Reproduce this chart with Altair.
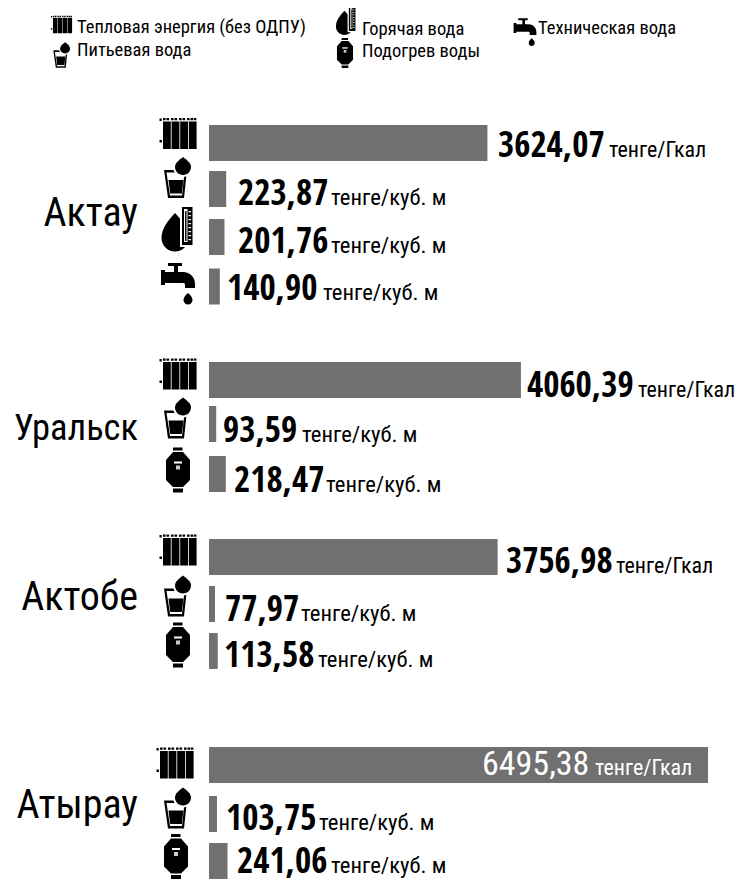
import re
import altair as alt
import pandas as pd

# ---------- data ----------
CITIES = ["Актау", "Уральск", "Актобе", "Атырау"]
SERVICES = ["Тепловая энергия (без ОДПУ)", "Питьевая вода", "Горячая вода",
            "Техническая вода", "Подогрев воды"]
AKTAU_ROWS = ["Тепловая энергия (без ОДПУ)", "Питьевая вода", "Горячая вода", "Техническая вода"]
AKTAU_VALUES = [3624.07, 223.87, 201.76, 140.90]
URALSK_ROWS = ["Тепловая энергия (без ОДПУ)", "Питьевая вода", "Подогрев воды"]
URALSK_VALUES = [4060.39, 93.59, 218.47]
AKTOBE_ROWS = ["Тепловая энергия (без ОДПУ)", "Питьевая вода", "Подогрев воды"]
AKTOBE_VALUES = [3756.98, 77.97, 113.58]
ATYRAU_ROWS = ["Тепловая энергия (без ОДПУ)", "Питьевая вода", "Подогрев воды"]
ATYRAU_VALUES = [6495.38, 103.75, 241.06]
LABELS = {"Актау": ["3624,07", "223,87", "201,76", "140,90"],
          "Уральск": ["4060,39", "93,59", "218,47"],
          "Актобе": ["3756,98", "77,97", "113,58"],
          "Атырау": ["6495,38", "103,75", "241,06"]}
UNIT_HEAT = "тенге/Гкал"
UNIT_WATER = "тенге/куб. м"

# ---------- styling ----------
FONT = "Roboto Condensed"
FONT_BOLD = "Open Sans Condensed"
BAR = "#707070"
MAXV = 6495.38
X_LEFT, X_RIGHT = 201, 700   # scale range, px inside the plot
K = (X_RIGHT - X_LEFT) / MAXV
M = 8                        # page margin

# layout per city, measured on the page: city baseline and size, bar centres, icon x and
# centres, number left, unit left, text baseline
LAYOUT = {
    "Актау": dict(base=226, fs=40, centres=[143, 189, 237, 286.5],
                  icon_x=[178, 178, 177.5, 178], icon_y=[133.5, 177.5, 230, 285],
                  num=[498, 238, 238, 227], unit=[609, 331, 331, 323], bl=[157, 205, 253, 300]),
    "Уральск": dict(base=440, fs=36.5, centres=[380, 424, 474],
                    icon_x=[178, 178, 178], icon_y=[374, 418, 470],
                    num=[527, 223, 234], unit=[638, 302, 326], bl=[397, 442, 492]),
    "Актобе": dict(base=610, fs=40, centres=[557, 604, 651],
                   icon_x=[178, 178, 178], icon_y=[550, 596, 645],
                   num=[506, 225, 224], unit=[616, 301, 318], bl=[573, 621, 667]),
    "Атырау": dict(base=818, fs=40, centres=[765, 814, 861],
                   icon_x=[175, 178, 176], icon_y=[763, 808, 856.5],
                   num=[482, 226, 237], unit=[595, 319, 331], bl=[775, 830, 873]),
}


def shape(path):
    """Scale a path drawn in px round (0,0) to Vega's -1..1 symbol box (40 px = 2)."""
    return re.sub(r"-?\d+\.?\d*", lambda m: f"{float(m.group()) / 20:.4f}", path)


def rect(x0, y0, x1, y1):
    return f"M{x0} {y0}L{x1} {y0}L{x1} {y1}L{x0} {y1}Z"


def poly(*pts):
    return "M" + "L".join(f"{a} {b}" for a, b in pts) + "Z"


def drop(cx, tip, cy, r):
    k = 0.5523 * r
    d = cy - tip
    return (f"M{cx} {tip}C{cx + .5 * r} {tip + .3 * d} {cx + r} {tip + .6 * d} {cx + r} {cy}"
            f"C{cx + r} {cy + k} {cx + k} {cy + r} {cx} {cy + r}"
            f"C{cx - k} {cy + r} {cx - r} {cy + k} {cx - r} {cy}"
            f"C{cx - r} {tip + .6 * d} {cx - .5 * r} {tip + .3 * d} {cx} {tip}Z")


RADIATOR = [("black", "".join(
    [rect(x, -12, x + 7.8, 15.5) for x in (-15, -6.4, 2.2, 10.8)] +
    [rect(x, -15.5, x + 2.6, -13.3) for x in (-15, -11.5, -7, -3.5, 1, 4.5, 9, 12.5, 15.8)] +
    [rect(-18.5, -15, -16.3, -12.5), rect(-18.5, 6.5, -16, 9)]))]
GLASS = [("black", poly((-14, -7.5), (9, -7.5), (6, 20.5), (-10, 20.5))),
         ("white", poly((-11.5, -5), (6.5, -5), (4, 18), (-8, 18))),
         ("black", poly((-9.5, 2.5), (5.5, 2.5), (3.8, 16), (-7.8, 16))),
         ("white", drop(5, -23, -10.5, 10)),
         ("black", drop(5, -20.5, -10.5, 8))]
THERMO = [("black", drop(-2.5, -17, 8, 13.5)),
          ("white", rect(2.5, -24, 16, 17)),
          ("black", rect(4.5, -23, 15, 15)),
          ("white", rect(6.5, -21, 10, 12)),
          ("black", rect(7.6, -19, 9, 11)),
          ("white", "".join(rect(11, y, 13.5, y + 1.2) for y in (-19, -15, -11, -7, -3, 1, 5, 9)))]
TAP = [("black", rect(-10, -22, 4, -19) + rect(-4, -19, 0, -12) + rect(-17, -15, -13, 0) +
        "M-13 -13L5 -13C12 -13 17 -8 17 -1L17 3L7 3L7 0C7 -2 6 -2 4 -2L-13 -2Z" +
        drop(10, 8, 15, 4.5))]
BOILER = [("black", rect(-5, -22.5, 4.5, -19.5) + rect(-5, 18.5, 5, 22.5) +
           poly((-5, -18), (5, -18), (12, -10), (12, 10), (5, 17), (-5, 17), (-12, 10), (-12, -10))),
          ("white", rect(-4, -8.5, 4, -6.5)),
          ("#cccccc", rect(-2, -4.5, 2, -0.5))]
ICONS = {SERVICES[0]: RADIATOR, SERVICES[1]: GLASS, SERVICES[2]: THERMO,
         SERVICES[3]: TAP, SERVICES[4]: BOILER}

ONE = pd.DataFrame({"k": [0]})


def icon_layers(icon, scale, x, y=None, y_enc=None, filter_=None, base=None, offset=0):
    out = []
    for colour, path in icon:
        mark = alt.Chart(base if base is not None else ONE).mark_point(
            shape=shape(path), size=1600 * scale ** 2, filled=True, fill=colour,
            opacity=1, yOffset=offset)
        if filter_ is not None:
            mark = mark.transform_filter(filter_)
        out.append(mark.encode(x=alt.value(x), y=y_enc if y_enc is not None else alt.value(y)))
    return out


def panel(city, rows, values):
    L = LAYOUT[city]
    c0, c1 = L["centres"][0] - M, L["centres"][-1] - M
    step = (c1 - c0) / (len(rows) - 1)
    df = pd.DataFrame({"service": rows, "value": values, "label": LABELS[city]})
    x = alt.X("value:Q", scale=alt.Scale(domain=[0, MAXV], range=[X_LEFT, X_RIGHT]), axis=None)
    y = alt.Y("service:N", sort=None, axis=None,
              scale=alt.Scale(type="point", domain=rows, range=[c0, c1], padding=0))
    layers = [alt.Chart(df).mark_text(text=city, font=FONT, fontSize=L["fs"], align="right", baseline="alphabetic",
                                      color="black").encode(x=alt.value(130), y=alt.value(L["base"] - M))
              .transform_filter(alt.datum.service == rows[0])]
    for i, (row, val) in enumerate(zip(rows, values)):
        cur = alt.datum.service == row
        centre = c0 + step * i + M
        layers.append(alt.Chart(df).transform_filter(cur).mark_bar(
            size=36, color=BAR, yOffset=L["centres"][i] - centre).encode(x=x, y=y))
        layers += icon_layers(ICONS[row], 1, L["icon_x"][i] - M, y_enc=y, filter_=cur, base=df,
                              offset=L["icon_y"][i] - centre)
        bar_end = X_LEFT + M + val * K
        inside = val == MAXV
        colour = "white" if inside else "black"
        dy = L["bl"][i] - centre
        heat = row == SERVICES[0]
        unit = UNIT_HEAT if heat else UNIT_WATER
        layers.append(alt.Chart(df).transform_filter(cur).mark_text(
            font=FONT if inside else FONT_BOLD, fontSize=34 if inside else 35, color=colour,
            align="left", baseline="alphabetic",
            dx=L["num"][i] - bar_end, dy=dy).encode(x=x, y=y, text="label:N"))
        layers.append(alt.Chart(df).transform_filter(cur).mark_text(
            text=unit, font=FONT, fontSize=22 if heat else 22.7, color=colour, align="left",
            baseline="alphabetic", dx=L["unit"][i] - bar_end, dy=dy).encode(x=x, y=y))
    return alt.layer(*layers)


def legend():
    entries = [
        (SERVICES[0], 77, 33, 61.5, 24.5, .57),
        (SERVICES[1], 77, 56, 62, 55, .62),
        (SERVICES[2], 362, 35, 346, 21.5, .63),
        (SERVICES[4], 362, 57, 345, 53, .67),
        (SERVICES[3], 538, 34, 525, 33, .67),
    ]
    layers = []
    for name, tx, ty, ix, iy, s in entries:
        layers.append(alt.Chart(ONE).mark_text(text=name, font=FONT, fontSize=18.5, align="left",
                                               baseline="alphabetic", color="black")
                      .encode(x=alt.value(tx - M), y=alt.value(ty - M)))
        layers += icon_layers(ICONS[name], s, ix - M, y=iy - M)
    return alt.layer(*layers)


chart = alt.layer(
    legend(),
    panel("Актау", AKTAU_ROWS, AKTAU_VALUES),
    panel("Уральск", URALSK_ROWS, URALSK_VALUES),
    panel("Актобе", AKTOBE_ROWS, AKTOBE_VALUES),
    panel("Атырау", ATYRAU_ROWS, ATYRAU_VALUES),
).resolve_scale(y="independent").properties(
    width=731, height=871, padding=0, autosize=alt.AutoSizeParams(type="none")
).configure_view(stroke=None)

chart.save("out.html", embed_options={"renderer": "svg", "actions": False})
